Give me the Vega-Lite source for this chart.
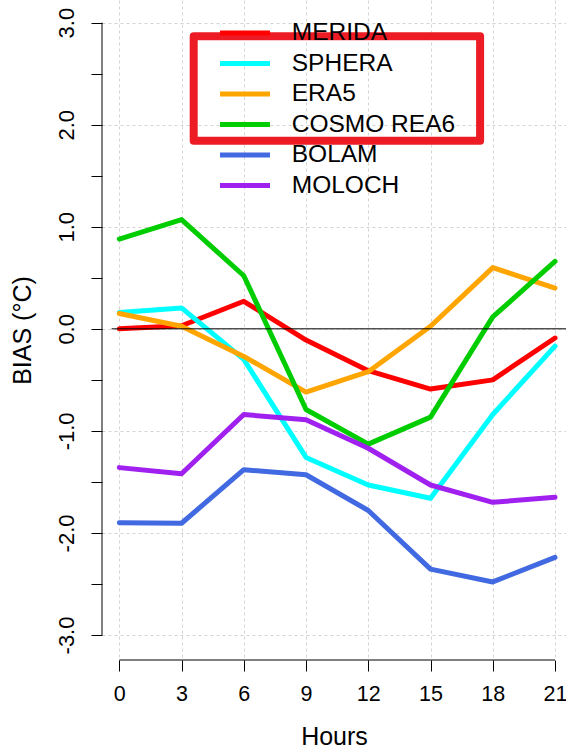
{
  "$schema": "https://vega.github.io/schema/vega-lite/v6.json",
  "width": 464,
  "height": 660,
  "autosize": {"type": "none"},
  "padding": {"left": 102, "top": 0, "right": 0, "bottom": 88},
  "background": "white",
  "config": {
    "font": "Liberation Sans",
    "view": {"stroke": null},
    "axis": {
      "labelFont": "Liberation Sans",
      "titleFont": "Liberation Sans",
      "labelColor": "black",
      "titleColor": "black",
      "titleFontWeight": "normal",
      "tickColor": "black",
      "tickWidth": 1,
      "tickSize": 11,
      "domain": false,
      "labelFlush": false,
      "labelOverlap": false,
      "labelBound": false,
      "gridColor": "#D3D3D3",
      "gridDash": [3, 3],
      "gridWidth": 1
    }
  },
  "layer": [
    {
      "data": {
        "values": [
          {"hour": 0, "model": "MERIDA", "bias": 0.0},
          {"hour": 3, "model": "MERIDA", "bias": 0.03},
          {"hour": 6, "model": "MERIDA", "bias": 0.27},
          {"hour": 9, "model": "MERIDA", "bias": -0.11},
          {"hour": 12, "model": "MERIDA", "bias": -0.41},
          {"hour": 15, "model": "MERIDA", "bias": -0.59},
          {"hour": 18, "model": "MERIDA", "bias": -0.5},
          {"hour": 21, "model": "MERIDA", "bias": -0.09},
          {"hour": 0, "model": "SPHERA", "bias": 0.16},
          {"hour": 3, "model": "SPHERA", "bias": 0.205},
          {"hour": 6, "model": "SPHERA", "bias": -0.3},
          {"hour": 9, "model": "SPHERA", "bias": -1.26},
          {"hour": 12, "model": "SPHERA", "bias": -1.53},
          {"hour": 15, "model": "SPHERA", "bias": -1.66},
          {"hour": 18, "model": "SPHERA", "bias": -0.84},
          {"hour": 21, "model": "SPHERA", "bias": -0.17},
          {"hour": 0, "model": "ERA5", "bias": 0.15},
          {"hour": 3, "model": "ERA5", "bias": 0.025},
          {"hour": 6, "model": "ERA5", "bias": -0.27},
          {"hour": 9, "model": "ERA5", "bias": -0.62},
          {"hour": 12, "model": "ERA5", "bias": -0.42},
          {"hour": 15, "model": "ERA5", "bias": 0.025},
          {"hour": 18, "model": "ERA5", "bias": 0.6},
          {"hour": 21, "model": "ERA5", "bias": 0.4},
          {"hour": 0, "model": "COSMO REA6", "bias": 0.88},
          {"hour": 3, "model": "COSMO REA6", "bias": 1.07},
          {"hour": 6, "model": "COSMO REA6", "bias": 0.52},
          {"hour": 9, "model": "COSMO REA6", "bias": -0.79},
          {"hour": 12, "model": "COSMO REA6", "bias": -1.13},
          {"hour": 15, "model": "COSMO REA6", "bias": -0.865},
          {"hour": 18, "model": "COSMO REA6", "bias": 0.117},
          {"hour": 21, "model": "COSMO REA6", "bias": 0.66},
          {"hour": 0, "model": "BOLAM", "bias": -1.9},
          {"hour": 3, "model": "BOLAM", "bias": -1.905},
          {"hour": 6, "model": "BOLAM", "bias": -1.38},
          {"hour": 9, "model": "BOLAM", "bias": -1.43},
          {"hour": 12, "model": "BOLAM", "bias": -1.78},
          {"hour": 15, "model": "BOLAM", "bias": -2.355},
          {"hour": 18, "model": "BOLAM", "bias": -2.48},
          {"hour": 21, "model": "BOLAM", "bias": -2.24},
          {"hour": 0, "model": "MOLOCH", "bias": -1.36},
          {"hour": 3, "model": "MOLOCH", "bias": -1.42},
          {"hour": 6, "model": "MOLOCH", "bias": -0.84},
          {"hour": 9, "model": "MOLOCH", "bias": -0.89},
          {"hour": 12, "model": "MOLOCH", "bias": -1.17},
          {"hour": 15, "model": "MOLOCH", "bias": -1.53},
          {"hour": 18, "model": "MOLOCH", "bias": -1.7},
          {"hour": 21, "model": "MOLOCH", "bias": -1.65}
        ]
      },
      "mark": {"type": "line", "strokeWidth": 5, "strokeCap": "round", "strokeJoin": "round"},
      "encoding": {
        "x": {
          "field": "hour",
          "type": "quantitative",
          "scale": {"domain": [-0.834, 21.53], "nice": false, "zero": false},
          "axis": {
            "values": [0, 3, 6, 9, 12, 15, 18, 21],
            "title": "Hours",
            "labelFontSize": 21.5,
            "labelPadding": 12.5,
            "titleFontSize": 25,
            "titlePadding": 19,
            "grid": true
          }
        },
        "y": {
          "field": "bias",
          "type": "quantitative",
          "scale": {"domain": [-3.245, 3.222], "nice": false, "zero": false},
          "axis": {
            "values": [-3, -2.5, -2, -1.5, -1, -0.5, 0, 0.5, 1, 1.5, 2, 2.5, 3],
            "labelExpr": "datum.value % 1 != 0 ? '' : (datum.value < 0 ? '-' + format(-datum.value, '.1f') : format(datum.value, '.1f'))",
            "title": "BIAS (°C)",
            "labelAngle": 270,
            "labelAlign": "center",
            "labelBaseline": "alphabetic",
            "labelFontSize": 22,
            "labelPadding": 17.5,
            "titleFontSize": 25,
            "titleBaseline": "alphabetic",
            "titlePadding": 25,
            "grid": true,
            "gridOpacity": {"condition": {"test": "datum.value % 1 != 0", "value": 0}, "value": 1}
          }
        },
        "color": {
          "field": "model",
          "type": "nominal",
          "sort": ["MERIDA", "SPHERA", "ERA5", "COSMO REA6", "BOLAM", "MOLOCH"],
          "scale": {
            "domain": ["MERIDA", "SPHERA", "ERA5", "COSMO REA6", "BOLAM", "MOLOCH"],
            "range": ["#FF0000", "#00FFFF", "#FFA500", "#00CD00", "#4169E1", "#A020F0"]
          },
          "legend": {
            "title": null,
            "orient": "none",
            "legendX": 118,
            "legendY": 20.75,
            "padding": 0,
            "zindex": 0,
            "symbolType": "M-5,0L5,0",
            "symbolSize": 100,
            "symbolStrokeWidth": 5,
            "symbolOffset": 12.75,
            "labelFont": "Liberation Sans",
            "labelFontSize": 24.5,
            "labelColor": "black",
            "labelLimit": 400,
            "labelOffset": 34.5,
            "rowPadding": 5.5
          }
        }
      }
    },
    {
      "data": {"values": [{}]},
      "mark": {"type": "rule", "color": "black", "strokeWidth": 1},
      "encoding": {
        "x": {"datum": -0.37},
        "x2": {"datum": 21.53},
        "y": {"datum": 0}
      }
    },
    {
      "data": {"values": [{}]},
      "mark": {"type": "rule", "color": "black", "strokeWidth": 1},
      "encoding": {
        "x": {"datum": -0.834},
        "y": {"datum": -3},
        "y2": {"datum": 3}
      }
    },
    {
      "data": {"values": [{}]},
      "mark": {"type": "rule", "color": "black", "strokeWidth": 1},
      "encoding": {
        "x": {"datum": 0},
        "x2": {"datum": 21},
        "y": {"datum": -3.245}
      }
    },
    {
      "data": {"values": [{}]},
      "mark": {"type": "rect", "fillOpacity": 0, "stroke": "#ED1C24", "strokeWidth": 8, "strokeJoin": "round"},
      "encoding": {
        "x": {"datum": 3.585},
        "x2": {"datum": 17.39},
        "y": {"datum": 2.867},
        "y2": {"datum": 1.842}
      }
    }
  ]
}
